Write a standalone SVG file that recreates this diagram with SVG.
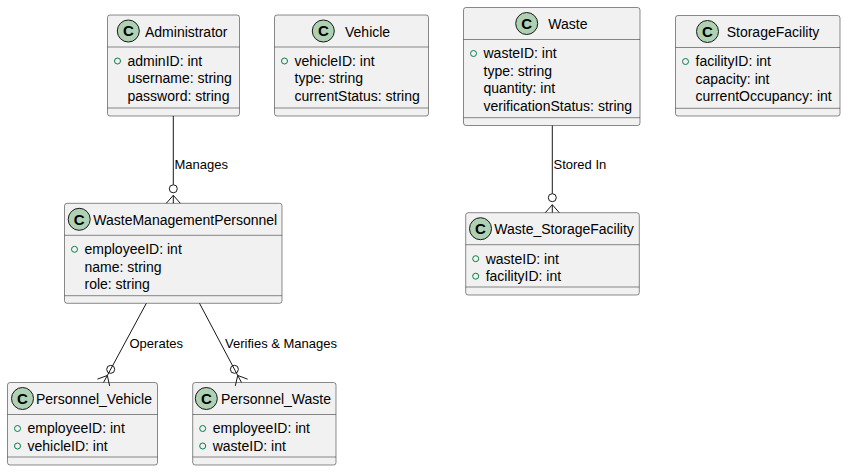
<svg xmlns="http://www.w3.org/2000/svg" width="846" height="471" viewBox="0 0 846 471">
<style>
.box{fill:#F1F1F1;stroke:#181818;stroke-width:0.5}
.sep{stroke:#181818;stroke-width:0.5}
.ic{fill:#ADD1B2;stroke:#181818;stroke-width:1}
.icl{font-family:"Liberation Sans",Arial,sans-serif;font-size:15px;font-weight:bold;fill:#000;text-anchor:middle}
.t{font-family:"Liberation Sans",Arial,sans-serif;font-size:14px;fill:#000}
.m{fill:none;stroke:#038048;stroke-width:1}
.lbl{font-family:"Liberation Sans",Arial,sans-serif;font-size:13px;fill:#000}
.e{stroke:#181818;stroke-width:1;fill:none}
.ec{stroke:#181818;stroke-width:1;fill:#FFFFFF}
</style>
<rect width="846" height="471" fill="#FFFFFF"/>

<g id="Administrator">
<rect class="box" x="107.5" y="15" width="132" height="101" rx="2.5"/>
<circle class="ic" cx="128.3" cy="31" r="11"/><text class="icl" x="128.3" y="36.3">C</text>
<text class="t" x="145" y="36.5">Administrator</text>
<line class="sep" x1="107.5" y1="47" x2="239.5" y2="47"/>
<circle class="m" cx="117.5" cy="61" r="3"/>
<text class="t" x="127.5" y="65.8">adminID: int</text>
<text class="t" x="127.5" y="83.3">username: string</text>
<text class="t" x="127.5" y="100.8">password: string</text>
<line class="sep" x1="107.5" y1="108" x2="239.5" y2="108"/>
</g>

<g id="Vehicle">
<rect class="box" x="274.5" y="15" width="154" height="101" rx="2.5"/>
<circle class="ic" cx="323.3" cy="31" r="11"/><text class="icl" x="323.3" y="36.3">C</text>
<text class="t" x="345" y="36.5">Vehicle</text>
<line class="sep" x1="274.5" y1="47" x2="428.5" y2="47"/>
<circle class="m" cx="284.5" cy="61" r="3"/>
<text class="t" x="294.5" y="65.8">vehicleID: int</text>
<text class="t" x="294.5" y="83.3">type: string</text>
<text class="t" x="294.5" y="100.8">currentStatus: string</text>
<line class="sep" x1="274.5" y1="108" x2="428.5" y2="108"/>
</g>

<g id="Waste">
<rect class="box" x="463.5" y="7.5" width="176.5" height="118" rx="2.5"/>
<circle class="ic" cx="526.7" cy="23.5" r="11"/><text class="icl" x="526.7" y="28.8">C</text>
<text class="t" x="548.3" y="29">Waste</text>
<line class="sep" x1="463.5" y1="39.5" x2="640" y2="39.5"/>
<circle class="m" cx="473.5" cy="53.5" r="3"/>
<text class="t" x="483.5" y="58.3">wasteID: int</text>
<text class="t" x="483.5" y="75.8">type: string</text>
<text class="t" x="483.5" y="93.3">quantity: int</text>
<text class="t" x="483.5" y="110.8">verificationStatus: string</text>
<line class="sep" x1="463.5" y1="117.7" x2="640" y2="117.7"/>
</g>

<g id="StorageFacility">
<rect class="box" x="675.5" y="15.5" width="164.5" height="100.5" rx="2.5"/>
<circle class="ic" cx="707.5" cy="31.5" r="11"/><text class="icl" x="707.5" y="36.8">C</text>
<text class="t" x="726.7" y="37">StorageFacility</text>
<line class="sep" x1="675.5" y1="47.5" x2="840" y2="47.5"/>
<circle class="m" cx="685.5" cy="61.5" r="3"/>
<text class="t" x="695.5" y="66.3">facilityID: int</text>
<text class="t" x="695.5" y="83.8">capacity: int</text>
<text class="t" x="695.5" y="101.3">currentOccupancy: int</text>
<line class="sep" x1="675.5" y1="108.3" x2="840" y2="108.3"/>
</g>

<g id="WasteManagementPersonnel">
<rect class="box" x="64.5" y="203.3" width="217.5" height="100" rx="2.5"/>
<circle class="ic" cx="79.2" cy="219.3" r="11"/><text class="icl" x="79.2" y="224.6">C</text>
<text class="t" x="93.3" y="224.8">WasteManagementPersonnel</text>
<line class="sep" x1="64.5" y1="235.3" x2="282" y2="235.3"/>
<circle class="m" cx="74.5" cy="249.3" r="3"/>
<text class="t" x="84.5" y="254.1">employeeID: int</text>
<text class="t" x="84.5" y="271.6">name: string</text>
<text class="t" x="84.5" y="289.1">role: string</text>
<line class="sep" x1="64.5" y1="295.7" x2="282" y2="295.7"/>
</g>

<g id="Personnel_Vehicle">
<rect class="box" x="7.5" y="382.5" width="150" height="82.5" rx="2.5"/>
<circle class="ic" cx="22.5" cy="398.5" r="11"/><text class="icl" x="22.5" y="403.8">C</text>
<text class="t" x="36" y="404">Personnel_Vehicle</text>
<line class="sep" x1="7.5" y1="414.5" x2="157.5" y2="414.5"/>
<circle class="m" cx="17.5" cy="428.5" r="3"/>
<text class="t" x="27.5" y="433.3">employeeID: int</text>
<circle class="m" cx="17.5" cy="446" r="3"/>
<text class="t" x="27.5" y="450.8">vehicleID: int</text>
<line class="sep" x1="7.5" y1="457" x2="157.5" y2="457"/>
</g>

<g id="Personnel_Waste">
<rect class="box" x="192.7" y="382.5" width="143.3" height="82.5" rx="2.5"/>
<circle class="ic" cx="206.3" cy="398.5" r="11"/><text class="icl" x="206.3" y="403.8">C</text>
<text class="t" x="221" y="404">Personnel_Waste</text>
<line class="sep" x1="192.7" y1="414.5" x2="336" y2="414.5"/>
<circle class="m" cx="202.7" cy="428.5" r="3"/>
<text class="t" x="212.7" y="433.3">employeeID: int</text>
<circle class="m" cx="202.7" cy="446" r="3"/>
<text class="t" x="212.7" y="450.8">wasteID: int</text>
<line class="sep" x1="192.7" y1="457" x2="336" y2="457"/>
</g>

<g id="Waste_StorageFacility">
<rect class="box" x="465.7" y="212.7" width="173.6" height="82.3" rx="2.5"/>
<circle class="ic" cx="480.5" cy="228.7" r="11"/><text class="icl" x="480.5" y="234">C</text>
<text class="t" x="494.3" y="234.2">Waste_StorageFacility</text>
<line class="sep" x1="465.7" y1="244.7" x2="639.3" y2="244.7"/>
<circle class="m" cx="475.7" cy="258.7" r="3"/>
<text class="t" x="485.7" y="263.5">wasteID: int</text>
<circle class="m" cx="475.7" cy="276.2" r="3"/>
<text class="t" x="485.7" y="281">facilityID: int</text>
<line class="sep" x1="465.7" y1="287" x2="639.3" y2="287"/>
</g>

<g id="connectors">
<!-- Administrator -> WasteManagementPersonnel -->
<line class="e" x1="173.3" y1="116" x2="173.3" y2="184.8"/>
<circle class="ec" cx="173.3" cy="188.8" r="4"/>
<path class="e" d="M173.3,195.3 L166.3,203.3 M173.3,195.3 L173.3,203.3 M173.3,195.3 L180.3,203.3"/>
<text class="lbl" x="174.5" y="168.5">Manages</text>

<!-- Waste -> Waste_StorageFacility -->
<line class="e" x1="552.3" y1="125.5" x2="552.3" y2="193.7"/>
<circle class="ec" cx="552.3" cy="197.7" r="4"/>
<path class="e" d="M552.3,204.7 L545.3,212.7 M552.3,204.7 L552.3,212.7 M552.3,204.7 L559.3,212.7"/>
<text class="lbl" x="553.5" y="168.5">Stored In</text>

<!-- WasteManagementPersonnel -> Personnel_Vehicle -->
<line class="e" x1="146.3" y1="303.3" x2="107.34" y2="375.48"/>
<circle class="e" cx="110.7" cy="369.34" r="4"/>
<path class="e" d="M107.34,375.48 L97.36,379.14 M107.34,375.48 L103.5,382.5 M107.34,375.48 L109.64,385.86"/>
<text class="lbl" x="129.5" y="348">Operates</text>

<!-- WasteManagementPersonnel -> Personnel_Waste -->
<line class="e" x1="199.5" y1="303.3" x2="237.72" y2="375.45"/>
<circle class="e" cx="234.4" cy="369.3" r="4"/>
<path class="e" d="M237.72,375.45 L247.67,379.19 M237.72,375.45 L241.5,382.5 M237.72,375.45 L235.33,385.81"/>
<text class="lbl" x="225" y="348">Verifies &amp; Manages</text>
</g>
</svg>
